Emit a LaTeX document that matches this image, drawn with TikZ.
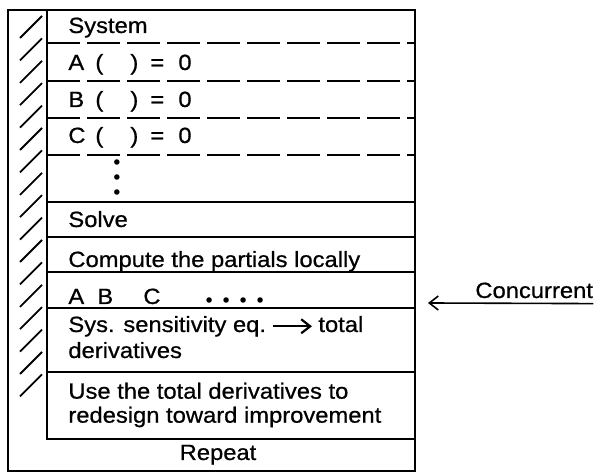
\documentclass[tikz,border=0pt]{standalone}
\usepackage{fontspec}
\setmainfont{Liberation Sans}[FakeStretch=1.08, FakeBold=0.7]
\usetikzlibrary{arrows.meta,positioning,calc}
\newcommand{\eqline}[1]{\makebox[13.5pt][l]{#1}\makebox[17.5pt][l]{(}\makebox[10pt][l]{)}\makebox[14pt][l]{=}0}
\newcommand{\dotsym}{{\fontsize{6.5}{6.5}\selectfont$\bullet$}}
\newcommand{\hdot}{\makebox[8.5pt][l]{\dotsym}}

\begin{document}
\begin{tikzpicture}[x=0.5pt, y=-0.5pt, every node/.style={inner sep=0pt, font=\fontsize{11}{12}\selectfont}, >={Straight Barb[length=4.5pt,width=7pt]},
  rowtext/.style={anchor=base west},
  divider/.style={line width=0.8pt},
  dashdiv/.style={divider, dash pattern=on 16.5pt off 3.5pt}]
  \useasboundingbox (0,0) rectangle (596,474);
  \draw[line width=1.1pt] (8,10) rectangle (415,471);
  \draw[line width=1pt] (47,10) -- (47,439) -- (415,439);
  \foreach \i in {0,...,16}
    \draw[line width=0.9pt] (20,{38+22.4*\i}) -- ++(22,-22);
  \foreach \y in {43,81,118,155}
    \draw[dashdiv] (47,\y) -- (415,\y);
  \foreach \y in {202,237,272,308,372}
    \draw[divider] (47,\y) -- (415,\y);
  \node[rowtext] (system) at (68,33) {System};
  \node[rowtext] (eqa) at (68,70) {\eqline{A}};
  \node[rowtext] (eqb) at (68,107) {\eqline{B}};
  \node[rowtext] (eqc) at (68,143) {\eqline{C}};
  \node[align=center, font=\fontsize{6.5}{7.5}\selectfont] (more) at (117,178) {$\bullet$\\$\bullet$\\$\bullet$};
  \node[rowtext] (solve) at (68,227) {Solve};
  \node[rowtext] (partials) at (68,267) {Compute the partials locally};
  \node[rowtext] (abc) at (68,304) {\makebox[14.5pt][l]{A}\makebox[23pt][l]{B}\makebox[31pt][l]{C}\hdot\hdot\hdot\dotsym};
  \node[rowtext] (syseq) at (68,332) {Sys. sensitivity eq.};
  \node[rowtext] (total) at (318,332) {total};
  \node[rowtext] (deriv) at (68,358) {derivatives};
  \node[anchor=west, align=left] (redesign) at (68,405) {Use the total derivatives to\\redesign toward improvement};
  \node[anchor=base] (repeat) at (218,460) {Repeat};
  \draw[->, line width=1.1pt, shorten <=3.5pt, shorten >=3pt] (syseq.east) -- (syseq.east -| total.west);
  \node[rowtext, inner ysep=2.5pt] (concurrent) at (475,298) {Concurrent};
  \coordinate (conctip) at (428,303);
  \draw[->, line width=0.8pt] (concurrent.south east) -- (conctip);
\end{tikzpicture}
\end{document}
